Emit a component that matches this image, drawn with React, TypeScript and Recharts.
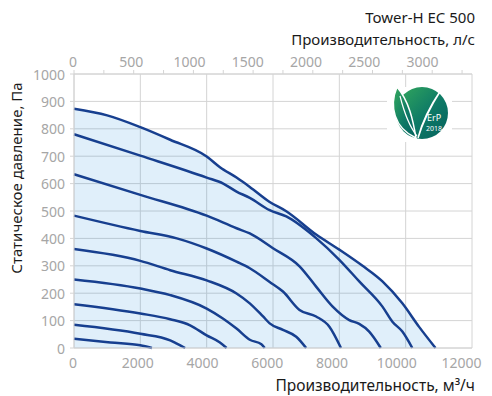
import { Area, CartesianGrid, ComposedChart, Line, XAxis, YAxis } from 'recharts';

// fan curves: [flow m³/h, static pressure Pa], from top speed down
const curve1: [number, number][] = [
  [0, 873], [1000, 849], [2000, 806], [2900, 760], [4000, 699], [4400, 660], [4900, 622],
  [5300, 588], [5900, 533], [6400, 499], [7300, 414], [8000, 359], [8700, 300], [9300, 243],
  [9900, 163], [10400, 78], [10900, 0],
];
const curve2: [number, number][] = [
  [0, 780], [2000, 702], [4000, 622], [4500, 600], [4900, 571], [5300, 548], [5900, 503],
  [6400, 480], [7300, 401], [8000, 322], [8600, 243], [9300, 151], [9600, 96], [9900, 60], [10200, 0],
];
const curve3: [number, number][] = [
  [0, 634], [2000, 559], [4000, 483], [4900, 437], [5300, 418], [6000, 364], [6800, 298],
  [7300, 224], [7800, 151], [8300, 102], [8600, 88], [8900, 60], [9250, 0],
];
const curve4: [number, number][] = [
  [0, 483], [2000, 427], [3100, 400], [4000, 363], [4900, 315], [5300, 291], [5900, 241],
  [6300, 206], [6800, 139], [7300, 115], [7700, 78], [8050, 0],
];
const curve5: [number, number][] = [
  [0, 361], [2000, 318], [2900, 284], [4000, 247], [4900, 199], [5300, 163], [5700, 115],
  [5900, 90], [6300, 66], [6700, 41], [7000, 0],
];
const curve6: [number, number][] = [
  [0, 250], [2000, 217], [2900, 193], [4000, 144], [4500, 107], [4900, 71], [5300, 30],
  [5650, 14], [5750, 0],
];
const curve7: [number, number][] = [
  [0, 160], [2000, 126], [2900, 105], [3500, 83], [4000, 46], [4400, 20], [4600, 0],
];
const curve8: [number, number][] = [[0, 85], [2000, 52], [2900, 28], [3100, 16], [3350, 0]];
const curve9: [number, number][] = [[0, 34], [1100, 20], [2000, 10], [2350, 0]];

const curves = [curve1, curve2, curve3, curve4, curve5, curve6, curve7, curve8, curve9];

const flowTicks = [0, 2000, 4000, 6000, 8000, 10000, 12000];
// top axis: every 250 l/s, expressed in m³/h (1 l/s = 3.6 m³/h)
const lsTicks = [0, 250, 500, 750, 1000, 1250, 1500, 1750, 2000, 2250, 2500, 2750, 3000, 3250];
const paTicks = [0, 100, 200, 300, 400, 500, 600, 700, 800, 900, 1000];

const toPoints = (c: [number, number][]) => c.map(([q, p]) => ({ q, p }));

const GRID = '#d4d4d4';
const TICK = '#a6a6a6';
const LINE = '#173f8f';
const FONT = '"Noto Sans", sans-serif';

const BottomTick = ({ x, y, payload }: any) => (
  <text x={x - 1 - payload.value * 0.0008} y={y} textAnchor="middle" dominantBaseline="central"
    fill={TICK} fontSize={14} fontFamily={FONT}>
    {payload.value}
  </text>
);

const TopTick = ({ x, y, payload }: any) => {
  const ls = Math.round(payload.value / 3.6);
  if (ls % 500 !== 0) return <g />;
  return (
    <text x={x - 1 - ls * 0.0029} y={y} textAnchor="middle" dominantBaseline="central"
      fill={TICK} fontSize={14} fontFamily={FONT}>
      {ls}
    </text>
  );
};

const LeftTick = ({ x, y, payload }: any) => (
  <text x={x - 1} y={y} textAnchor="end" dominantBaseline="central" fill={TICK} fontSize={14} fontFamily={FONT}>
    {payload.value}
  </text>
);

function ErpLogo() {
  return (
    <g>
      <defs>
        <linearGradient id="erp" x1="0" y1="0" x2="1" y2="1">
          <stop offset="0%" stopColor="#34a95c" />
          <stop offset="55%" stopColor="#0e7a66" />
          <stop offset="100%" stopColor="#05625d" />
        </linearGradient>
      </defs>
      <rect x={387} y={87} width={65} height={55} fill="#fff" />
      <circle cx={422} cy={113} r={26} fill="url(#erp)" />
      <path d="M397,87 C389,106 394,128 416,138 C413,120 409,101 397,87 Z" fill="url(#erp)" stroke="#fff" strokeWidth={1.5} />
      <path d="M400,96 C404,112 409,126 417,136" fill="none" stroke="#fff" strokeWidth={1.2} />
      <path d="M441,90 C432,104 424,118 418,138 C422,122 430,106 441,90 Z" fill="#fff" stroke="#fff" strokeWidth={1.5} />
      <text x={434} y={121} textAnchor="middle" fill="#fff" fontSize={9} fontFamily={FONT}>ErP</text>
      <text x={434} y={131} textAnchor="middle" fill="#fff" fontSize={7} fontFamily={FONT}>2018</text>
    </g>
  );
}

export default function App() {
  return (
    <div style={{ position: 'absolute', left: 0, top: 0, width: 492, height: 396, background: '#fff' }}>
      <ComposedChart width={492} height={396} margin={{ top: 44, right: 20, bottom: 18, left: 14 }}>
        <CartesianGrid xAxisId="q" stroke={GRID} />
        <XAxis xAxisId="q" dataKey="q" type="number" domain={[0, 12000]} ticks={flowTicks} interval={0}
          tickLine={false} tickSize={0} tickMargin={14} axisLine={{ stroke: GRID }} height={30} tick={<BottomTick />} />
        <XAxis xAxisId="top" dataKey="q" orientation="top" type="number" domain={[0, 12000]}
          ticks={lsTicks.map((v) => v * 3.6)} interval={0} tickSize={4} tickMargin={9}
          tickLine={{ stroke: GRID }} axisLine={{ stroke: GRID }} height={30} tick={<TopTick />} />
        <YAxis dataKey="p" type="number" domain={[0, 1000]} ticks={paTicks} interval={0} width={60}
          tickSize={4} tickMargin={4} tickLine={{ stroke: GRID }} axisLine={{ stroke: GRID }} tick={<LeftTick />} />
        <Area xAxisId="top" data={toPoints(curve1)} dataKey="p" type="monotone" fill="#0078d7"
          fillOpacity={0.12} stroke="none" isAnimationActive={false} />
        {curves.map((c, i) => (
          <Line key={i} xAxisId="q" data={toPoints(c)} dataKey="p" type="monotone" stroke={LINE}
            strokeWidth={2.5} dot={false} isAnimationActive={false} />
        ))}
      </ComposedChart>
      <svg width={492} height={396} style={{ position: 'absolute', left: 0, top: 0, pointerEvents: 'none' }}>
        <ErpLogo />
        <text x={475} y={17} textAnchor="end" dominantBaseline="central" fill="#1a1a1a" fontSize={15} fontFamily={FONT}>
          Tower-H EC 500
        </text>
        <text x={475} y={39} textAnchor="end" dominantBaseline="central" fill="#1a1a1a" fontSize={15} fontFamily={FONT}>
          Производительность, л/с
        </text>
        <text x={475} y={385} textAnchor="end" dominantBaseline="central" fill="#1a1a1a" fontSize={15.5} fontFamily={FONT}>
          Производительность, м³/ч
        </text>
        <text x={16} y={178} textAnchor="middle" dominantBaseline="central" fill="#1a1a1a" fontSize={15}
          fontFamily={FONT} transform="rotate(-90 16 178)">
          Статическое давление, Па
        </text>
      </svg>
    </div>
  );
}
